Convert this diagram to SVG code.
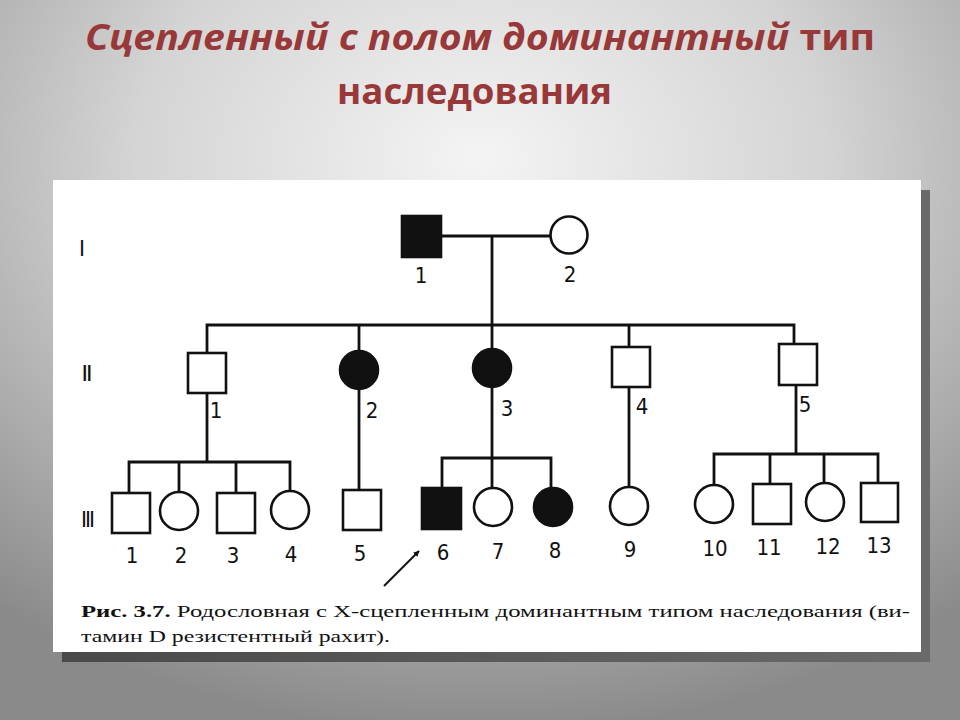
<svg xmlns="http://www.w3.org/2000/svg" width="960" height="720" viewBox="0 0 960 720">
<defs>
<radialGradient id="bg" cx="50%" cy="22%" r="80%">
<stop offset="0" stop-color="#f4f4f4"/>
<stop offset="0.45" stop-color="#d4d4d4"/>
<stop offset="1" stop-color="#8a8a8a"/>
</radialGradient>
<linearGradient id="sh" x1="0" y1="0" x2="1" y2="0">
<stop offset="0" stop-color="#4a4a4a"/>
<stop offset="1" stop-color="#6a6a6a"/>
</linearGradient>
<marker id="ah" viewBox="0 0 10 10" refX="9" refY="5" markerWidth="6" markerHeight="6" orient="auto" markerUnits="userSpaceOnUse">
<path d="M0 0 L10 5 L0 10 Z" fill="#111"/>
</marker>
<style>
.title{font-family:"Open Sans","Noto Sans",sans-serif;font-weight:bold;fill:#983838;}
.sym{fill:#fff;stroke:#111;stroke-width:2.6;}
.aff{fill:#111;stroke:#111;stroke-width:2.6;}
.ln{fill:none;stroke:#111;stroke-width:2.8;}
.num{font-family:"DejaVu Sans Condensed","Liberation Sans",sans-serif;font-size:22px;fill:#111;text-anchor:middle;}
.gen{font-family:"DejaVu Sans Condensed","Liberation Sans",sans-serif;font-size:22px;font-weight:bold;fill:#111;text-anchor:middle;}
.cap{font-family:"Liberation Serif",serif;font-size:17px;fill:#111;}
</style>
</defs>
<rect x="0" y="0" width="960" height="720" fill="url(#bg)"/>
<text class="title" x="85" y="50" font-size="36" textLength="790" lengthAdjust="spacingAndGlyphs"><tspan font-style="italic">Сцепленный с полом доминантный</tspan> тип</text>
<text class="title" x="337" y="104" font-size="36" textLength="275" lengthAdjust="spacingAndGlyphs">наследования</text>
<rect x="62" y="190" width="868" height="472" fill="url(#sh)"/>
<rect x="53" y="180" width="868" height="472" fill="#fff"/>
<text class="gen" x="82" y="256" textLength="4" lengthAdjust="spacingAndGlyphs">I</text>
<text class="gen" x="87" y="381" textLength="9" lengthAdjust="spacingAndGlyphs">II</text>
<text class="gen" x="88" y="527" textLength="12" lengthAdjust="spacingAndGlyphs">III</text>
<g id="connectors">
<path class="ln" d="M441 236 H551"/>
<path class="ln" d="M492 236 V325"/>
<path class="ln" d="M207 353 V325 H794 V344"/>
<path class="ln" d="M359 325 V351"/>
<path class="ln" d="M492 325 V349"/>
<path class="ln" d="M629 325 V347"/>
<path class="ln" d="M207 393 V462"/>
<path class="ln" d="M129 493 V462 H290 V491"/>
<path class="ln" d="M179 462 V492"/>
<path class="ln" d="M236 462 V493"/>
<path class="ln" d="M359 389 V490"/>
<path class="ln" d="M492 387 V488"/>
<path class="ln" d="M442 488 V458 H551 V488"/>
<path class="ln" d="M629 387 V487"/>
<path class="ln" d="M796 385 V454"/>
<path class="ln" d="M714 485 V454 H878 V483"/>
<path class="ln" d="M770 454 V484"/>
<path class="ln" d="M824 454 V483"/>
<line x1="384" y1="586" x2="419" y2="551" stroke="#111" stroke-width="2" marker-end="url(#ah)"/>
</g>
<g id="I-1"><rect class="aff" x="402" y="216" width="39" height="41"/><text class="num" x="421" y="283">1</text></g>
<g id="I-2"><circle class="sym" cx="569" cy="235" r="18.5"/><text class="num" x="570" y="282">2</text></g>
<g id="II-1"><rect class="sym" x="188" y="353" width="38" height="40"/><text class="num" x="216" y="418">1</text></g>
<g id="II-2"><circle class="aff" cx="359" cy="370" r="19"/><text class="num" x="372" y="418">2</text></g>
<g id="II-3"><circle class="aff" cx="492" cy="368" r="19"/><text class="num" x="507" y="416">3</text></g>
<g id="II-4"><rect class="sym" x="612" y="347" width="38" height="40"/><text class="num" x="642" y="414">4</text></g>
<g id="II-5"><rect class="sym" x="779" y="344" width="38" height="41"/><text class="num" x="805" y="412">5</text></g>
<g id="III-1"><rect class="sym" x="112" y="493" width="38" height="40"/><text class="num" x="132" y="563">1</text></g>
<g id="III-2"><circle class="sym" cx="179" cy="511" r="19"/><text class="num" x="181" y="563">2</text></g>
<g id="III-3"><rect class="sym" x="217" y="493" width="38" height="40"/><text class="num" x="233" y="563">3</text></g>
<g id="III-4"><circle class="sym" cx="290" cy="510" r="19"/><text class="num" x="291" y="562">4</text></g>
<g id="III-5"><rect class="sym" x="343" y="490" width="38" height="40"/><text class="num" x="360" y="561">5</text></g>
<g id="III-6"><rect class="aff" x="422" y="488" width="39" height="41"/><text class="num" x="443" y="560">6</text></g>
<g id="III-7"><circle class="sym" cx="493" cy="507" r="19"/><text class="num" x="498" y="559">7</text></g>
<g id="III-8"><circle class="aff" cx="553" cy="507" r="19"/><text class="num" x="555" y="558">8</text></g>
<g id="III-9"><circle class="sym" cx="629" cy="506" r="19"/><text class="num" x="630" y="557">9</text></g>
<g id="III-10"><circle class="sym" cx="714" cy="504" r="19"/><text class="num" x="715" y="556">10</text></g>
<g id="III-11"><rect class="sym" x="753" y="484" width="38" height="40"/><text class="num" x="769" y="555">11</text></g>
<g id="III-12"><circle class="sym" cx="825" cy="502" r="19"/><text class="num" x="828" y="554">12</text></g>
<g id="III-13"><rect class="sym" x="861" y="483" width="37" height="39"/><text class="num" x="879" y="553">13</text></g>
<text class="cap" x="81" y="617" textLength="829" lengthAdjust="spacingAndGlyphs"><tspan font-weight="bold">Рис. 3.7.</tspan> Родословная с Х-сцепленным доминантным типом наследования (ви-</text>
<text class="cap" x="81" y="642" textLength="309" lengthAdjust="spacingAndGlyphs">тамин D резистентный рахит).</text>
</svg>
